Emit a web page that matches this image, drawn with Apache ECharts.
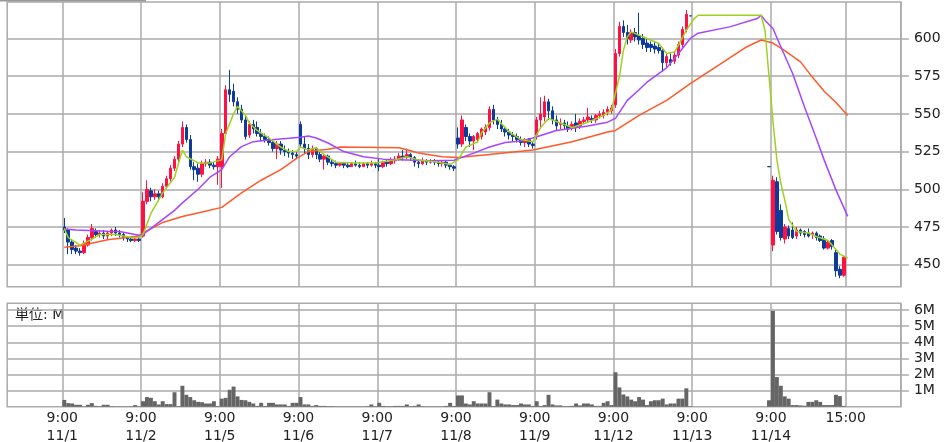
<!DOCTYPE html>
<html><head><meta charset="utf-8">
<script src="https://cdn.jsdelivr.net/npm/echarts@6/dist/echarts.min.js"></script>
<style>html,body{margin:0;padding:0;background:#fff}#c{width:952px;height:442px}</style>
</head><body><div id="c"></div>
<script>
// ---------- data ----------
const dayLabels = ['11/1','11/2','11/5','11/6','11/7','11/8','11/9','11/12','11/13','11/14'];
const openTime = '9:00';
const closeTime = '15:00';
const barsPerDay = 20;      // 15-minute bars per session
const leadBars = 14;        // empty slots before 11/1 9:00
const totalBars = 227;      // slots on the axis
const closeSlot = 213;      // slot of 11/14 15:00
const priceTicks = [450, 475, 500, 525, 550, 575, 600];
const priceMin = 435.4, priceMax = 624.2;
const volumeTicks = [1, 2, 3, 4, 5, 6];
const volumeMax = 6.42;
const unitLabel = '単位: M';

// candles: [open, close, low, high]
const c_1101 = [[475,473,471,481],[473,465,457,474],[465,460,457,467],[461,459,457,463],[459,458,456,461],
  [458,464,457,466],[463,468,462,470],[468,474,466,477],[472,470,468,474],[470,471,468,473],
  [471,469,467,473],[469,471,467,472],[471,473,469,474],[473,471,469,475],[471,470,468,473],
  [470,468,466,471],[468,467,465,469],[467,466,465,468],[466,467,465,468],[467,466,465,468]];
const c_1102 = [[469,492,468,498],[492,500,490,506],[499,495,492,501],[495,497,493,500],[497,495,492,499],
  [495,502,494,504],[502,507,500,509],[507,514,505,516],[514,520,512,522],[520,530,518,532],
  [530,541,528,545],[541,533,531,543],[533,515,513,536],[515,513,506,518],[514,510,505,517],
  [510,517,508,519],[517,518,515,520],[518,516,514,520],[516,515,513,518],[515,520,503,522]];
const c_1105 = [[515,537,501,540],[537,566,535,569],[566,563,558,579],[565,558,555,570],[558,553,550,561],
  [553,546,544,556],[546,535,533,549],[536,543,534,545],[543,540,537,546],[541,537,535,545],
  [537,535,532,540],[535,533,531,537],[533,531,529,535],[531,527,525,533],[527,530,520,532],
  [530,526,523,532],[526,525,522,529],[525,524,521,527],[524,523,520,526],[523,522,520,525]];
const c_1106 = [[543,530,528,545],[530,527,524,535],[527,523,520,530],[523,527,521,529],[527,523,520,528],
  [523,520,518,525],[520,522,513,524],[522,518,516,523],[518,517,515,520],[517,516,514,519],
  [516,517,515,518],[517,516,514,518],[516,515,514,518],[515,517,515,518],[517,516,515,519],
  [516,515,514,518],[515,517,515,518],[517,516,514,518],[516,517,515,519],[517,516,514,518]];
const c_1107 = [[516,515,512,520],[515,518,514,519],[518,517,515,520],[517,519,516,521],[519,520,517,522],
  [520,522,519,524],[522,521,519,526],[521,523,520,527],[523,521,519,524],[521,518,515,522],
  [518,517,514,520],[517,519,516,521],[519,518,516,520],[518,519,517,520],[519,518,516,520],
  [518,517,515,519],[517,518,515,519],[518,516,514,519],[516,515,513,517],[515,514,512,516]];
const c_1108 = [[534,530,527,541],[530,546,528,549],[541,535,532,543],[535,532,528,537],[532,535,526,536],
  [533,537,531,538],[535,540,533,541],[538,541,536,543],[541,553,539,555],[553,546,543,556],
  [546,543,540,548],[543,540,538,546],[540,538,535,542],[538,536,533,540],[536,535,532,538],
  [535,533,531,537],[533,531,529,535],[531,533,528,534],[533,530,528,534],[530,529,527,532]];
const c_1109 = [[536,546,533,548],[546,550,540,561],[548,558,545,562],[558,552,546,560],[552,546,543,555],
  [546,542,539,549],[543,544,540,547],[544,542,540,546],[542,540,538,545],[541,543,539,545],
  [544,541,538,550],[542,545,540,547],[545,546,543,548],[546,548,544,554],[547,546,544,549],
  [546,549,544,550],[549,550,547,552],[549,551,547,553],[551,553,549,555],[552,554,550,556]];
const c_1112 = [[556,590,554,593],[590,608,588,611],[608,604,601,612],[604,600,596,609],[599,604,597,606],
  [604,601,598,607],[602,599,596,617],[600,596,593,603],[597,594,591,600],[596,594,591,598],
  [595,593,590,598],[594,592,590,597],[592,584,578,594],[584,588,581,590],[586,584,582,590],
  [585,589,583,591],[589,596,587,598],[596,606,594,608],[606,616,604,619],[615,615,615,615]];
const c_1113 = [null,null,null,null,null,null,null,null,null,null,
  null,null,null,null,null,null,null,null,null,[515,515,515,515]];
const c_1114 = [[463,506,459,509],[505,472,470,508],[486,468,466,490],[467,475,464,477],[474,469,467,476],
  [473,468,467,478],[469,473,467,475],[473,471,469,474],[472,470,468,473],[471,469,468,474],
  [470,471,467,472],[471,468,466,472],[469,466,465,470],[467,461,460,469],[461,465,460,466],
  [466,462,460,467],[458,446,442,460],[447,443,441,449],[443,455,442,456],null];
const candlesByDay = [c_1101,c_1102,c_1105,c_1106,c_1107,c_1108,c_1109,c_1112,c_1113,c_1114];

// volume, millions of shares
const v_1101 = [.42,.22,.2,.12,.12,.02,.12,.22,.05,.03,.12,.12,.03,.02,.02,.02,.02,.03,.1,.03];
const v_1102 = [.34,.6,.55,.34,.14,.34,.16,.16,.9,.03,1.3,.74,.6,.4,.3,.28,.2,.2,.34,.04];
const v_1105 = [.5,.55,1.05,1.25,.64,.42,.4,.3,.2,.05,.24,.05,.24,.24,.14,.14,.14,.05,.24,.24];
const v_1106 = [.6,.14,.14,.05,.1,.05,.05,.03,.03,.02,.02,.02,.02,.02,.02,.02,.02,.03,.14,.03];
const v_1107 = [.24,.05,.03,.03,.05,.05,.05,.14,.03,.05,.14,.03,.02,.02,.02,.02,.02,.05,.24,.05];
const v_1108 = [.7,.7,.2,.14,.34,.2,.2,.2,.9,.04,.44,.2,.14,.14,.1,.1,.2,.14,.14,.05];
const v_1109 = [.34,.04,.1,.74,.14,.08,.08,.03,.03,.05,.2,.08,.2,.2,.14,.05,.05,.24,.34,.1];
const v_1112 = [2.14,1.2,.76,.64,.44,.34,.6,.44,.1,.34,.4,.4,.5,.14,.2,.2,.5,.5,1.14,.03];
const v_1113 = [null,null,null,null,null,null,null,null,null,null,null,null,null,null,null,null,null,null,null,.4];
const v_1114 = [5.95,1.84,1.3,.64,.5,.1,.1,.08,.06,.3,.3,.4,.3,.1,.1,.1,.74,.66,.05,null];
const volumesByDay = [v_1101,v_1102,v_1105,v_1106,v_1107,v_1108,v_1109,v_1112,v_1113,v_1114];

// moving averages: [day, bar, value]
const maShort = [['11/1',0,474],['11/1',1,468],['11/1',4,463],['11/1',7,467],['11/1',9,470],['11/1',13,470],['11/1',17,468],['11/1',19,468],
  ['11/2',0,470],['11/2',2,484],['11/2',5,497.6],['11/2',8,508],['11/2',10,526],['11/2',11,521.6],['11/2',14,517.5],['11/2',17,517.5],
  ['11/5',0,519.5],['11/5',1,537],['11/5',3,550],['11/5',4,555],['11/5',6,549],['11/5',7,544],['11/5',9,539],['11/5',12,534],['11/5',15,528],['11/5',17,525],['11/5',19,525],
  ['11/6',0,528],['11/6',2,526],['11/6',4,527.5],['11/6',6,523],['11/6',9,518],['11/6',14,517.5],['11/6',19,517.5],
  ['11/7',4,519.5],['11/7',7,521.6],['11/7',10,519.5],['11/7',15,518],['11/7',18,516.5],
  ['11/8',0,519.5],['11/8',2,528],['11/8',5,531.5],['11/8',6,537.5],['11/8',8,544],['11/8',10,546.5],['11/8',13,538],['11/8',16,533],['11/8',19,531.5],
  ['11/9',1,541],['11/9',3,547],['11/9',6,544],['11/9',9,541],['11/9',13,544.5],['11/9',17,549],['11/9',19,552.6],
  ['11/12',0,563.7],['11/12',1,574.6],['11/12',2,592],['11/12',3,601],['11/12',4,604.4],['11/12',8,600],['11/12',11,596.7],['11/12',13,590],['11/12',15,591],['11/12',16,595.6],['11/12',18,605.5],
  ['11/13',0,613.2],['11/13',1,615.4],['11/13',17,615.4],['11/13',18,605],['11/13',19,575],
  ['11/14',0,545],['11/14',1,519.5],['11/14',2,504],['11/14',3,493],['11/14',4,480],['11/14',6,472],['11/14',9,471],['11/14',11,468.7],['11/14',14,466],['11/14',16,460],['11/14',17,457],['11/14',19,454.4]];
const maMid = [['11/1',0,473.7],['11/1',3,473],['11/1',11,472.2],['11/1',14,472],['11/1',19,469.5],
  ['11/2',0,470],['11/2',4,478],['11/2',8,486],['11/2',10,491],['11/2',14,500],['11/2',17,508],
  ['11/5',0,513],['11/5',2,521.6],['11/5',5,528.3],['11/5',8,531.6],['11/5',12,532.7],['11/5',17,533.8],
  ['11/6',0,534.5],['11/6',2,535.4],['11/6',4,534],['11/6',7,530.7],['11/6',11,525],['11/6',16,521.6],
  ['11/7',1,520],['11/7',13,519],['11/7',19,519.3],
  ['11/8',4,524],['11/8',8,528],['11/8',12,531],['11/8',16,532],['11/8',19,534],
  ['11/9',5,539],['11/9',9,540.5],['11/9',13,542],['11/9',18,544.5],
  ['11/12',0,547],['11/12',3,559],['11/12',6,566],['11/12',8,571],['11/12',13,580.5],['11/12',16,590],['11/12',19,600],
  ['11/13',1,603.5],['11/13',9,607.7],['11/13',16,613.2],['11/13',17,615.4],['11/13',18,612],
  ['11/14',0,606.6],['11/14',2,594.5],['11/14',5,576.8],['11/14',8,554.7],['11/14',11,533.8],['11/14',13,519.5],['11/14',16,499.6],['11/14',19,482]];
const maLong = [['11/1',0,461.6],['11/1',4,462.5],['11/1',11,466.5],['11/1',19,469],
  ['11/2',0,471],['11/2',5,478],['11/2',10,482],['11/2',15,485],
  ['11/5',0,488],['11/5',5,497.6],['11/5',10,506],['11/5',15,513],['11/5',19,520.5],
  ['11/6',2,525],['11/6',7,526.6],['11/6',10,528],
  ['11/7',5,527.5],['11/7',8,525.6],['11/7',10,524],['11/7',16,521.6],
  ['11/8',0,521],['11/8',8,523],['11/8',19,526],
  ['11/9',9,531.5],['11/9',18,538],
  ['11/12',0,539],['11/12',6,549],['11/12',13,559],['11/12',19,570],
  ['11/13',7,583.6],['11/13',13,594],['11/13',17,599],
  ['11/14',0,597],['11/14',3,592],['11/14',7,584.5],['11/14',10,574.4],['11/14',13,565],['11/14',16,557.5],['11/14',19,549]];

// ---------- build ----------
const slotOf = (day, bar) => leadBars + barsPerDay * dayLabels.indexOf(day) + bar;
const categories = [];
const slotLabel = {};
for (let i = 0; i < totalBars; i++) categories.push(String(i));
dayLabels.forEach((d, di) => { slotLabel[leadBars + barsPerDay * di] = openTime + '\n' + d; });
slotLabel[closeSlot] = closeTime;
const isLineSlot = i => slotLabel[i] !== undefined;

const candleData = new Array(totalBars).fill('-');
const volumeData = new Array(totalBars).fill('-');
candlesByDay.forEach((arr, di) => arr.forEach((c, k) => { if (c) candleData[leadBars + barsPerDay * di + k] = c; }));
volumesByDay.forEach((arr, di) => arr.forEach((v, k) => { if (v != null) volumeData[leadBars + barsPerDay * di + k] = v; }));
function maSeriesData(points) {
  const out = new Array(totalBars).fill(null);
  points.forEach(([d, b, v]) => { out[slotOf(d, b)] = v; });
  return out;
}

const gridColor = '#ababab';
const textColor = '#222';
const font = 'DejaVu Sans';
const G = { left: 7.2, width: 893.7 };

const chart = echarts.init(document.getElementById('c'), null, { renderer: 'canvas' });
const xCommon = {
  type: 'category', data: categories, boundaryGap: true,
  axisLine: { show: false }, axisTick: { show: false },
  splitLine: { show: true, interval: (i) => isLineSlot(i), lineStyle: { color: gridColor, width: 1.5 } }
};
chart.setOption({
  animation: false,
  backgroundColor: '#fff',
  grid: [
    { left: G.left, top: 2, width: G.width, height: 284.7, outerBoundsMode: 'none', containLabel: false,
      show: true, borderColor: gridColor, borderWidth: 1.5, backgroundColor: '#fff' },
    { left: G.left, top: 303.3, width: G.width, height: 103.4, outerBoundsMode: 'none', containLabel: false,
      show: true, borderColor: gridColor, borderWidth: 1.5, backgroundColor: '#fff' }
  ],
  xAxis: [
    Object.assign({}, xCommon, { gridIndex: 0, axisLabel: { show: false } }),
    Object.assign({}, xCommon, { gridIndex: 1, axisLabel: {
      show: true, interval: (i) => isLineSlot(i), formatter: (v, i) => slotLabel[i] || '',
      fontFamily: font, fontSize: 14, color: textColor, lineHeight: 18.5, margin: 2, padding: [0, 4, 0, 0]
    } })
  ],
  yAxis: [
    { gridIndex: 0, type: 'value', position: 'right', min: priceMin, max: priceMax, scale: true,
      axisLine: { show: false }, splitLine: { show: false },
      axisTick: { show: true, customValues: priceTicks, length: 8, lineStyle: { color: gridColor, width: 1.5 } },
      axisLabel: { show: true, customValues: priceTicks, margin: 13, fontFamily: font, fontSize: 14, color: textColor } },
    { gridIndex: 0, type: 'value', position: 'left', min: priceMin, max: priceMax, scale: true,
      axisLine: { show: false }, splitLine: { show: false }, axisLabel: { show: false },
      axisTick: { show: true, inside: true, customValues: priceTicks, length: G.width, lineStyle: { color: gridColor, width: 1.5 } } },
    { gridIndex: 1, type: 'value', position: 'right', min: 0, max: volumeMax,
      axisLine: { show: false }, splitLine: { show: false },
      axisTick: { show: true, customValues: volumeTicks, length: 8, lineStyle: { color: gridColor, width: 1.5 } },
      axisLabel: { show: true, customValues: volumeTicks, formatter: v => v + 'M', margin: 13, fontFamily: font, fontSize: 14, color: textColor } },
    { gridIndex: 1, type: 'value', position: 'left', min: 0, max: volumeMax,
      axisLine: { show: false }, splitLine: { show: false }, axisLabel: { show: false },
      axisTick: { show: true, inside: true, customValues: volumeTicks, length: G.width, lineStyle: { color: gridColor, width: 1.5 } } }
  ],
  series: [
    { type: 'candlestick', xAxisIndex: 0, yAxisIndex: 0, data: candleData, barWidth: 3,
      itemStyle: { color: '#ff1144', color0: '#0d3b99', borderColor: '#ff1144', borderColor0: '#0d3b99', borderWidth: 1 } },
    { type: 'line', xAxisIndex: 0, yAxisIndex: 0, data: maSeriesData(maLong), connectNulls: true, showSymbol: false, symbol: 'none',
      lineStyle: { color: '#ff5a28', width: 1.5 }, z: 3 },
    { type: 'line', xAxisIndex: 0, yAxisIndex: 0, data: maSeriesData(maMid), connectNulls: true, showSymbol: false, symbol: 'none',
      lineStyle: { color: '#a645ff', width: 1.5 }, z: 3 },
    { type: 'line', xAxisIndex: 0, yAxisIndex: 0, data: maSeriesData(maShort), connectNulls: true, showSymbol: false, symbol: 'none',
      lineStyle: { color: '#9fd21e', width: 1.5 }, z: 4 },
    { type: 'bar', xAxisIndex: 1, yAxisIndex: 2, data: volumeData, barCategoryGap: '0%', barWidth: '100%',
      itemStyle: { color: '#656565' } }
  ],
  graphic: [
    { type: 'rect', left: 0, top: 0, shape: { width: 146, height: 1.5 }, style: { fill: '#999' }, silent: true },
    { type: 'text', left: 15, top: 308, style: { text: unitLabel, font: '14px "DejaVu Sans", "Noto Sans CJK JP"', fill: textColor } }
  ]
});
</script>
</body></html>
